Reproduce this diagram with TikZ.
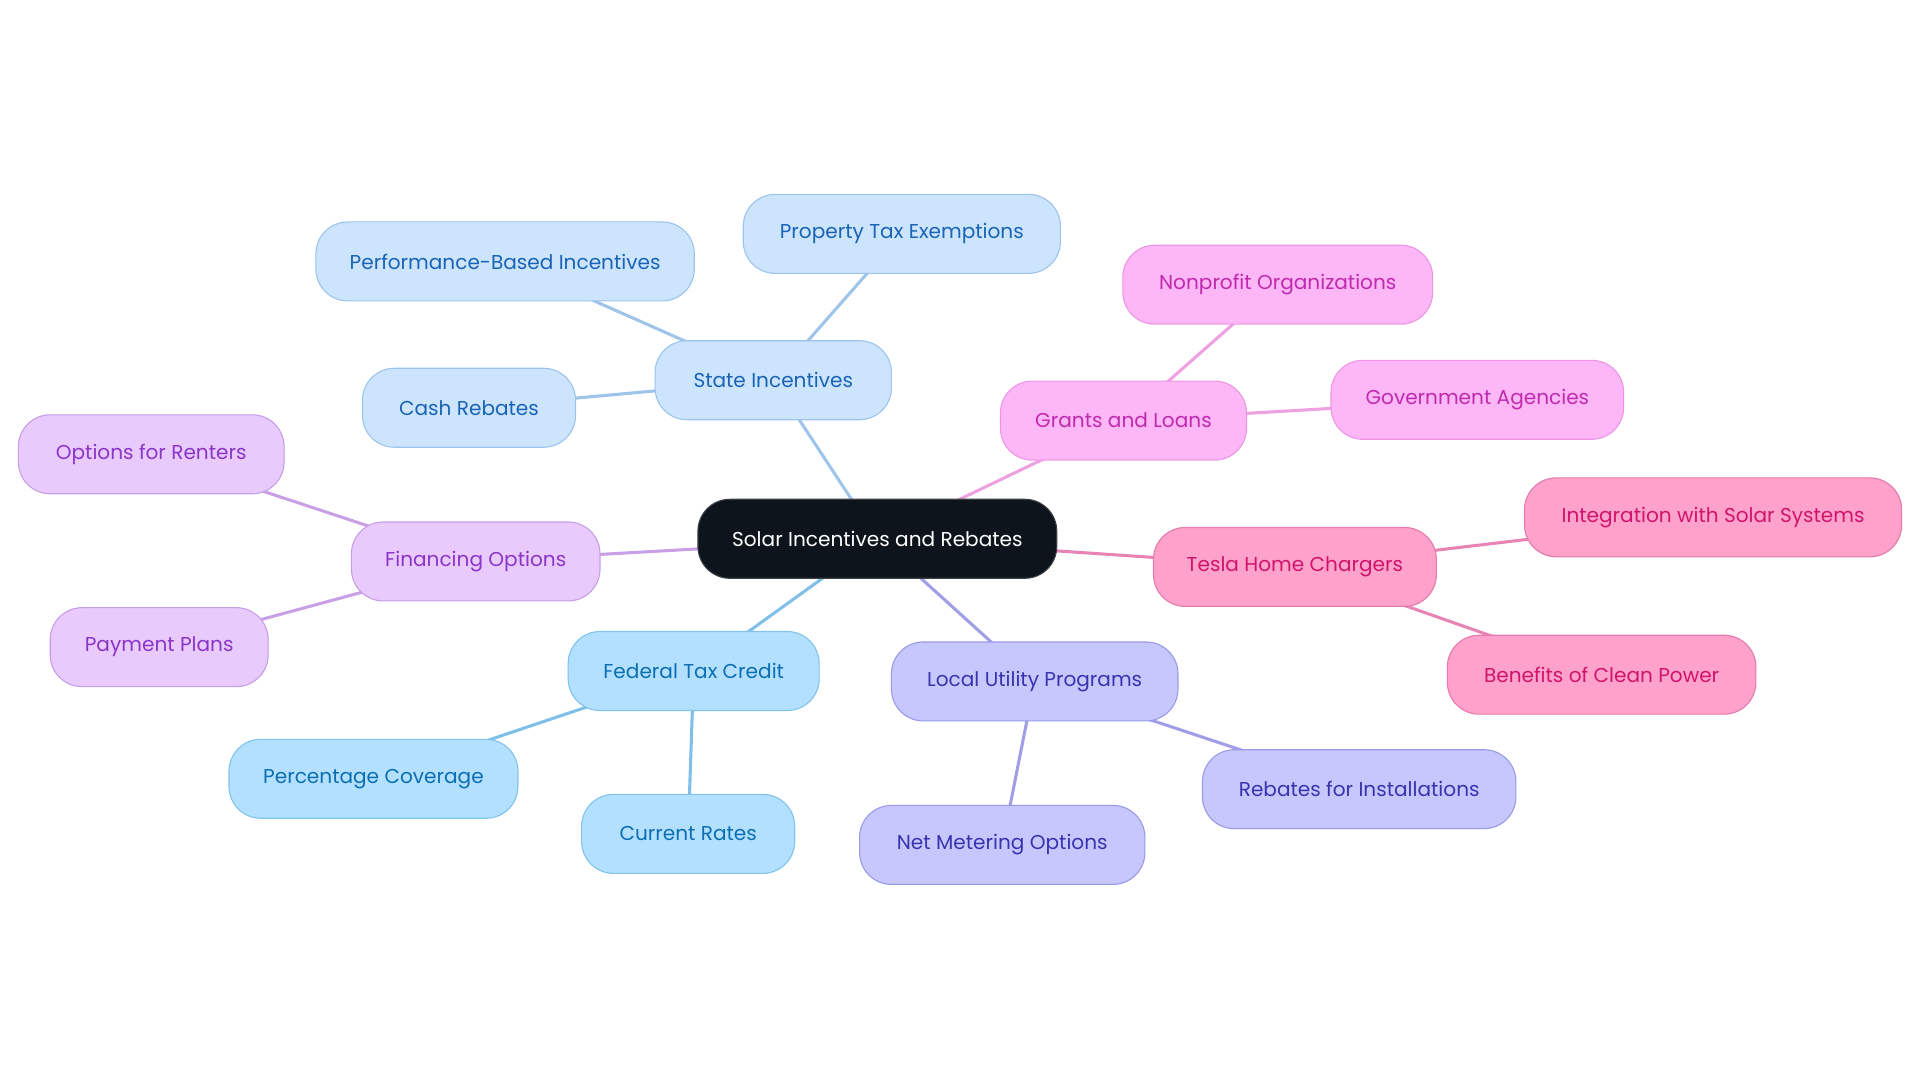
\documentclass[tikz,border=0pt]{standalone}
\usepackage{fontspec}
\setmainfont{Poppins}
\usetikzlibrary{backgrounds}
\definecolor{stF}{HTML}{CCE4FC}\definecolor{stD}{HTML}{9EC4EE}\definecolor{stT}{HTML}{1A64B8}\definecolor{stL}{HTML}{9EC4EA}
\definecolor{feF}{HTML}{B3E0FE}\definecolor{feD}{HTML}{80C4EE}\definecolor{feT}{HTML}{0B6FB5}\definecolor{feL}{HTML}{7FBFE8}
\definecolor{loF}{HTML}{C6C8FD}\definecolor{loD}{HTML}{9A9AE8}\definecolor{loT}{HTML}{3B32B0}\definecolor{loL}{HTML}{A09EE6}
\definecolor{grF}{HTML}{FDB6F6}\definecolor{grD}{HTML}{EE96E6}\definecolor{grT}{HTML}{C02AAF}\definecolor{grL}{HTML}{EEA0E0}
\definecolor{fiF}{HTML}{E8CAFD}\definecolor{fiD}{HTML}{C79EE8}\definecolor{fiT}{HTML}{8B35C9}\definecolor{fiL}{HTML}{C9A0E6}
\definecolor{teF}{HTML}{FEA2CB}\definecolor{teD}{HTML}{E67AAC}\definecolor{teT}{HTML}{D0146C}\definecolor{teL}{HTML}{E884B4}
\definecolor{ceF}{HTML}{0D141B}\definecolor{ceD}{HTML}{3A3F44}
\tikzset{
  box/.style={rounded corners=26pt, minimum height=64.5pt, inner xsep=0pt, inner ysep=0pt, align=center, line width=0.9pt, font=\fontsize{16.4}{19}\selectfont},
  st/.style={box, fill=stF, draw=stD, text=stT},
  fe/.style={box, fill=feF, draw=feD, text=feT},
  lo/.style={box, fill=loF, draw=loD, text=loT},
  gr/.style={box, fill=grF, draw=grD, text=grT},
  fi/.style={box, fill=fiF, draw=fiD, text=fiT},
  te/.style={box, fill=teF, draw=teD, text=teT},
  ce/.style={box, fill=ceF, draw=ceD, text=white},
  link/.style={line width=2.5pt},
}
\begin{document}
\begin{tikzpicture}[x=1pt,y=-1pt]
\useasboundingbox (0,0) rectangle (1568,884.4);
\node[ce, minimum width=293pt] (c) at (716.5,440) {Solar Incentives and Rebates};
\node[st, minimum width=193pt] (si) at (631.5,310.5) {State Incentives};
\node[st, minimum width=259pt] (pt) at (736.5,191) {Property Tax Exemptions};
\node[st, minimum width=309pt] (pb) at (412.5,213.5) {Performance-Based Incentives};
\node[st, minimum width=174pt] (cr) at (383,333) {Cash Rebates};
\node[gr, minimum width=201pt] (gl) at (917.5,343.5) {Grants and Loans};
\node[gr, minimum width=253pt] (np) at (1043.5,232.5) {Nonprofit Organizations};
\node[gr, minimum width=239pt] (ga) at (1206.5,326.5) {Government Agencies};
\node[te, minimum width=231pt] (th) at (1057.5,463) {Tesla Home Chargers};
\node[te, minimum width=308pt] (is) at (1399,422.5) {Integration with Solar Systems};
\node[te, minimum width=252pt] (bc) at (1308,551) {Benefits of Clean Power};
\node[lo, minimum width=234pt] (lu) at (845,556.5) {Local Utility Programs};
\node[lo, minimum width=256pt] (ri) at (1110,644.5) {Rebates for Installations};
\node[lo, minimum width=233pt] (nm) at (818.5,690) {Net Metering Options};
\node[fe, minimum width=205pt] (ft) at (566.5,548) {Federal Tax Credit};
\node[fe, minimum width=236pt] (pc) at (305,636) {Percentage Coverage};
\node[fe, minimum width=174pt] (cu) at (562,681) {Current Rates};
\node[fi, minimum width=203pt] (fo) at (388.5,458.5) {Financing Options};
\node[fi, minimum width=217pt] (or) at (123.5,371) {Options for Renters};
\node[fi, minimum width=178pt] (pp) at (130,528.5) {Payment Plans};
\begin{scope}[on background layer]
\draw[link, stL] (c.center) -- (si.center);
\draw[link, stL] (si.center) -- (pt.center);
\draw[link, stL] (si.center) -- (pb.center);
\draw[link, stL] (si.center) -- (cr.center);
\draw[link, grL] (c.center) -- (gl.center);
\draw[link, grL] (gl.center) -- (np.center);
\draw[link, grL] (gl.center) -- (ga.center);
\draw[link, teL] (c.center) -- (th.center);
\draw[link, teL] (th.center) -- (is.center);
\draw[link, teL] (th.center) -- (bc.center);
\draw[link, loL] (c.center) -- (lu.center);
\draw[link, loL] (lu.center) -- (ri.center);
\draw[link, loL] (lu.center) -- (nm.center);
\draw[link, feL] (c.center) -- (ft.center);
\draw[link, feL] (ft.center) -- (pc.center);
\draw[link, feL] (ft.center) -- (cu.center);
\draw[link, fiL] (c.center) -- (fo.center);
\draw[link, fiL] (fo.center) -- (or.center);
\draw[link, fiL] (fo.center) -- (pp.center);
\end{scope}
\end{tikzpicture}
\end{document}
